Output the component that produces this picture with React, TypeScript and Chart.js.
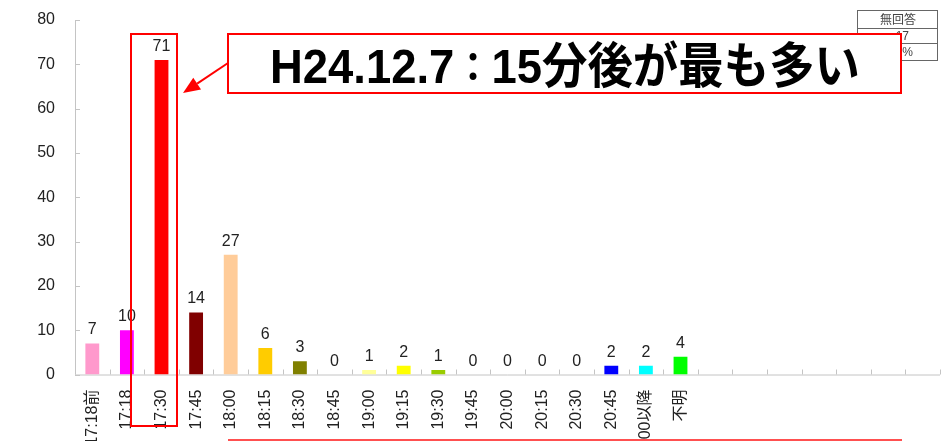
import React, { useEffect, useRef } from "react";
import { Chart, registerables } from "chart.js";

Chart.register(...registerables);

const categories = [
  "17:18前", "17:18", "17:30", "17:45", "18:00", "18:15", "18:30", "18:45",
  "19:00", "19:15", "19:30", "19:45", "20:00", "20:15", "20:30", "20:45",
  "21:00以降", "不明", "", "", "", "", "", "", "",
];
const values = [7, 10, 71, 14, 27, 6, 3, 0, 1, 2, 1, 0, 0, 0, 0, 2, 2, 4];
const barColors = [
  "#FF99CC", "#FF00FF", "#FF0000", "#800000", "#FFCC99", "#FFCC00", "#808000", "#FFFFFF",
  "#FFFF99", "#FFFF00", "#99CC00", "#FFFFFF", "#FFFFFF", "#FFFFFF", "#FFFFFF", "#0000FF",
  "#00FFFF", "#00FF00",
];
const yMin = 0;
const yMax = 80;
const yStep = 10;
const highlightIndex = 2;
const calloutParts = ["H24.12.7", "：", "15分後が最も多い"];
const tableRows = ["無回答", "17", "4.7%"];

const FONT = "'Liberation Sans', Arial, 'Noto Sans CJK JP', sans-serif";

export default function App() {
  const ref = useRef<HTMLCanvasElement | null>(null);

  useEffect(() => {
    const canvas = ref.current;
    if (!canvas) return;

    const axesPlugin = {
      id: "axesPlugin",
      beforeDatasetsDraw(chart: any) {
        const ctx = chart.ctx;
        const { left, right, bottom } = chart.chartArea;
        const y = chart.scales.y;
        ctx.save();
        ctx.strokeStyle = "#c4c4c4";
        ctx.lineWidth = 1;
        ctx.beginPath();
        ctx.moveTo(left + 0.5, y.getPixelForValue(yMax));
        ctx.lineTo(left + 0.5, bottom);
        ctx.moveTo(left, bottom + 0.5);
        ctx.lineTo(right, bottom + 0.5);
        for (let v = yMin; v <= yMax; v += yStep) {
          const py = Math.round(y.getPixelForValue(v)) + 0.5;
          ctx.moveTo(left, py);
          ctx.lineTo(left + 5, py);
        }
        const n = categories.length;
        for (let i = 0; i <= n; i++) {
          const px = Math.round(left + ((right - left) * i) / n) + 0.5;
          ctx.moveTo(px, bottom);
          ctx.lineTo(px, bottom - 5);
        }
        ctx.stroke();
        ctx.restore();
      },
    };

    const labelPlugin = {
      id: "labelPlugin",
      afterDatasetsDraw(chart: any) {
        const ctx = chart.ctx;
        const meta = chart.getDatasetMeta(0);
        ctx.save();
        ctx.font = `16px ${FONT}`;
        ctx.fillStyle = "#222";
        ctx.textAlign = "center";
        ctx.textBaseline = "alphabetic";
        meta.data.forEach((el: any, i: number) => {
          if (values[i] === undefined) return;
          ctx.fillText(String(values[i]), el.x, el.y - 9);
        });
        ctx.restore();
      },
    };

    const overlayPlugin = {
      id: "overlayPlugin",
      afterDraw(chart: any) {
        const ctx = chart.ctx;
        const xs = chart.scales.x;
        ctx.save();

        // highlight rectangle around the max bar
        const cx = xs.getPixelForValue(highlightIndex);
        ctx.strokeStyle = "#FF0000";
        ctx.lineWidth = 2;
        ctx.strokeRect(Math.round(cx) - 31, 34, 46, 392);

        // table at top right
        ctx.strokeStyle = "#666";
        ctx.lineWidth = 1;
        const tx = 857.5, tw = 80, rowsY = [10.5, 28.5, 43.5, 60.5];
        ctx.strokeRect(tx, rowsY[0], tw, rowsY[3] - rowsY[0]);
        ctx.beginPath();
        ctx.moveTo(tx, rowsY[1]);
        ctx.lineTo(tx + tw, rowsY[1]);
        ctx.moveTo(tx, rowsY[2]);
        ctx.lineTo(tx + tw, rowsY[2]);
        ctx.stroke();
        ctx.fillStyle = "#444";
        ctx.font = `12px ${FONT}`;
        ctx.textBaseline = "middle";
        ctx.textAlign = "center";
        ctx.fillText(tableRows[0], 898, (rowsY[0] + rowsY[1]) / 2 + 1);
        ctx.textAlign = "right";
        ctx.fillText(tableRows[1], 909, (rowsY[1] + rowsY[2]) / 2 + 1);
        ctx.fillText(tableRows[2], 913, (rowsY[2] + rowsY[3]) / 2 + 1);

        // callout box
        ctx.fillStyle = "#FFFFFF";
        ctx.fillRect(228, 34, 673, 59);
        ctx.strokeStyle = "#FF0000";
        ctx.lineWidth = 2;
        ctx.strokeRect(228, 34, 673, 59);

        // callout text (drawn in parts, compressed horizontally to fit)
        ctx.fillStyle = "#000";
        ctx.textAlign = "left";
        ctx.textBaseline = "alphabetic";
        const fonts = [
          `bold 49px ${FONT}`,
          `bold 40px ${FONT}`,
          `bold 49px ${FONT}`,
        ];
        const widths = calloutParts.map((p, i) => {
          ctx.font = fonts[i];
          return ctx.measureText(p).width;
        });
        const total = widths.reduce((a, b) => a + b, 0);
        const target = 590;
        const sx = target / total;
        ctx.save();
        ctx.translate(565 - target / 2, 83);
        ctx.scale(sx, 1);
        let off = 0;
        calloutParts.forEach((p, i) => {
          ctx.font = fonts[i];
          ctx.fillText(p, off, i === 1 ? -2 : 0);
          off += widths[i];
        });
        ctx.restore();

        // arrow
        const sx0 = 228, sy0 = 63, tipX = 183, tipY = 93;
        const dx = tipX - sx0, dy = tipY - sy0;
        const len = Math.hypot(dx, dy);
        const ux = dx / len, uy = dy / len;
        const hl = 17, hw = 7;
        const bx = tipX - hl * ux, by = tipY - hl * uy;
        ctx.strokeStyle = "#FF0000";
        ctx.lineWidth = 2;
        ctx.beginPath();
        ctx.moveTo(sx0, sy0);
        ctx.lineTo(bx, by);
        ctx.stroke();
        ctx.fillStyle = "#FF0000";
        ctx.beginPath();
        ctx.moveTo(tipX, tipY);
        ctx.lineTo(bx - hw * uy, by + hw * ux);
        ctx.lineTo(bx + hw * uy, by - hw * ux);
        ctx.closePath();
        ctx.fill();

        // bottom red line
        ctx.strokeStyle = "#FF5050";
        ctx.lineWidth = 2;
        ctx.beginPath();
        ctx.moveTo(228, 440);
        ctx.lineTo(902, 440);
        ctx.stroke();

        ctx.restore();
      },
    };

    const chart = new Chart(canvas, {
      type: "bar",
      data: {
        labels: categories,
        datasets: [
          {
            data: values,
            backgroundColor: barColors,
            borderWidth: 0,
            categoryPercentage: 1,
            barPercentage: 0.4,
          },
        ],
      },
      options: {
        animation: false,
        responsive: false,
        devicePixelRatio: 1,
        layout: { padding: { top: 20, left: 0, right: 2, bottom: 0 } },
        plugins: {
          legend: { display: false },
          tooltip: { enabled: false },
          title: { display: false },
        },
        scales: {
          x: {
            grid: { display: false, drawTicks: false },
            border: { display: false },
            ticks: {
              autoSkip: false,
              minRotation: 90,
              maxRotation: 90,
              padding: 15,
              color: "#222",
              font: { size: 16, family: FONT },
            },
            afterFit(scale: any) {
              scale.height = 95.5;
              scale.paddingLeft = 0;
              scale.paddingRight = 0;
            },
          },
          y: {
            min: yMin,
            max: yMax,
            grid: { display: false, drawTicks: false },
            border: { display: false },
            ticks: {
              stepSize: yStep,
              padding: 20,
              color: "#222",
              font: { size: 16, family: FONT },
            },
            afterFit(scale: any) {
              scale.width = 75;
              scale.paddingTop = 0;
              scale.paddingBottom = 0;
            },
          },
        },
      },
      plugins: [axesPlugin, labelPlugin, overlayPlugin],
    });

    return () => chart.destroy();
  }, []);

  return (
    <div
      style={{
        position: "fixed",
        left: 0,
        top: 0,
        width: 942,
        height: 441,
        overflow: "hidden",
        background: "#fff",
      }}
    >
      <canvas ref={ref} width={942} height={470} style={{ display: "block", width: 942, height: 470 }} />
    </div>
  );
}
